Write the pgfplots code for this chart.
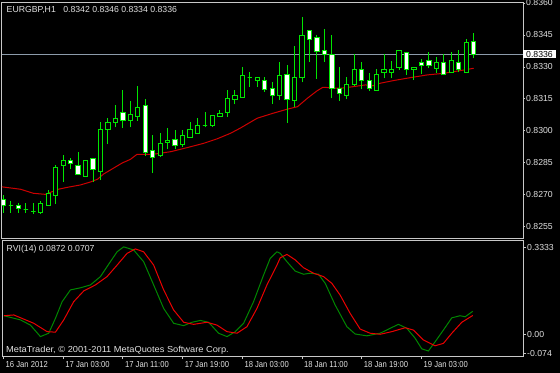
\documentclass[border=0pt]{standalone}
\usepackage{pgfplots}
\pgfplotsset{compat=1.18}
\usepackage{pgfplotstable}
\usepackage{fontspec}
\setmainfont{Liberation Sans}
\newfontfamily\narrowfont[FakeStretch=0.88]{Liberation Sans}
\newfontfamily\widefont[FakeStretch=1.065]{Liberation Sans}
\definecolor{cgreen}{RGB}{0,230,0}
\definecolor{mared}{RGB}{205,0,0}
\definecolor{rvig}{RGB}{0,135,0}
\definecolor{rvir}{RGB}{235,0,0}
\definecolor{framec}{RGB}{200,200,200}
\definecolor{hlinec}{RGB}{140,155,170}
\definecolor{txt}{RGB}{225,225,225}
\newcommand\mtfont{\fontsize{8.7bp}{10bp}\selectfont}
\newcommand\mtnarrow{\narrowfont\fontsize{8.7bp}{10bp}\selectfont}
\newcommand\mtwide{\widefont\fontsize{8.7bp}{10bp}\selectfont}

\pgfplotstableread{
i O H L C
0 0.82681 0.82700 0.82616 0.82653
1 0.82652 0.82672 0.82617 0.82652
2 0.82652 0.82664 0.82617 0.82636
3 0.82631 0.82664 0.82617 0.82631
4 0.82622 0.82661 0.82611 0.82622
5 0.82620 0.82672 0.82611 0.82661
6 0.82652 0.82723 0.82650 0.82708
7 0.82699 0.82841 0.82658 0.82830
8 0.82839 0.82888 0.82760 0.82864
9 0.82861 0.82872 0.82820 0.82849
10 0.82839 0.82903 0.82798 0.82798
11 0.82789 0.82866 0.82789 0.82861
12 0.82870 0.82870 0.82762 0.82820
13 0.82808 0.83042 0.82770 0.83008
14 0.83008 0.83060 0.82938 0.83041
15 0.83039 0.83122 0.83017 0.83058
16 0.83088 0.83192 0.83013 0.83048
17 0.83048 0.83142 0.83017 0.83078
18 0.83070 0.83212 0.83048 0.83111
19 0.83119 0.83150 0.82884 0.82900
20 0.82910 0.82981 0.82803 0.82877
21 0.82884 0.82989 0.82877 0.82942
22 0.82947 0.83013 0.82914 0.82955
23 0.82958 0.83005 0.82914 0.82930
24 0.82938 0.83005 0.82926 0.82981
25 0.82969 0.83044 0.82969 0.83005
26 0.82986 0.83061 0.82986 0.83028
27 0.83027 0.83090 0.83017 0.83027
28 0.83027 0.83072 0.83020 0.83072
29 0.83067 0.83098 0.83067 0.83080
30 0.83086 0.83192 0.83067 0.83150
31 0.83149 0.83192 0.83125 0.83167
32 0.83158 0.83301 0.83158 0.83259
33 0.83252 0.83277 0.83208 0.83252
34 0.83238 0.83250 0.83208 0.83250
35 0.83236 0.83252 0.83184 0.83195
36 0.83198 0.83228 0.83127 0.83165
37 0.83165 0.83322 0.83145 0.83258
38 0.83267 0.83309 0.83039 0.83149
39 0.83141 0.83400 0.83114 0.83252
40 0.83252 0.83533 0.83228 0.83449
41 0.83469 0.83469 0.83325 0.83430
42 0.83437 0.83450 0.83244 0.83375
43 0.83378 0.83478 0.83325 0.83360
44 0.83360 0.83450 0.83153 0.83197
45 0.83198 0.83299 0.83141 0.83177
46 0.83167 0.83252 0.83149 0.83219
47 0.83219 0.83361 0.83211 0.83289
48 0.83289 0.83322 0.83195 0.83236
49 0.83236 0.83270 0.83189 0.83197
50 0.83188 0.83289 0.83188 0.83267
51 0.83273 0.83360 0.83247 0.83289
52 0.83273 0.83330 0.83247 0.83289
53 0.83297 0.83378 0.83286 0.83378
54 0.83369 0.83369 0.83262 0.83286
55 0.83286 0.83297 0.83239 0.83297
56 0.83322 0.83337 0.83267 0.83306
57 0.83330 0.83369 0.83294 0.83306
58 0.83294 0.83345 0.83270 0.83322
59 0.83322 0.83361 0.83262 0.83267
60 0.83273 0.83369 0.83273 0.83330
61 0.83322 0.83380 0.83278 0.83289
62 0.83273 0.83430 0.83273 0.83417
63 0.83420 0.83460 0.83340 0.83360
}\candles

\pgfplotstableread{
x y
-0.4 0.82739
2.28 0.82727
4.0 0.82708
5.6 0.82703
7.36 0.82727
8.57 0.82736
10.3 0.82747
11.65 0.82761
12.6 0.82774
13.4 0.82798
14.7 0.82825
15.9 0.82850
17.0 0.82867
17.9 0.82891
20.1 0.82891
22.4 0.82903
24.6 0.82922
26.8 0.82942
28.6 0.82963
30.4 0.82989
31.7 0.83013
34.0 0.83060
36.1 0.83083
38.0 0.83102
39.4 0.83114
40.7 0.83153
42.0 0.83188
42.8 0.83205
45.1 0.83200
46.9 0.83208
48.5 0.83216
49.5 0.83212
50.5 0.83224
52.2 0.83236
54.5 0.83250
56.8 0.83263
58.9 0.83270
61.2 0.83283
63.0 0.83294
}\ma

\pgfplotstableread{
x y
0.04 0.070
2.28 0.054
3.61 0.034
4.95 -0.010
6.06 0.003
6.96 0.060
7.86 0.124
8.97 0.169
10.31 0.177
11.65 0.188
12.99 0.220
14.32 0.277
15.22 0.315
16.10 0.334
17.44 0.322
18.78 0.277
20.12 0.188
21.46 0.098
22.80 0.041
24.14 0.032
25.26 0.045
26.37 0.052
27.48 0.045
28.82 0.003
29.95 -0.010
31.06 0.009
32.17 0.041
33.51 0.124
34.85 0.226
35.74 0.290
36.64 0.315
37.08 0.309
37.98 0.277
39.09 0.241
40.20 0.229
41.10 0.233
42.21 0.229
43.11 0.194
44.44 0.111
46.01 0.028
47.12 0.000
48.69 -0.007
50.47 0.003
51.81 0.022
52.92 0.037
54.04 0.022
55.15 -0.016
56.05 -0.057
56.93 -0.065
57.83 -0.030
58.94 0.015
60.07 0.062
61.18 0.070
61.85 0.066
62.88 0.087
}\rvimain

\pgfplotstableread{
x y
0.04 0.070
1.38 0.073
2.72 0.057
4.06 0.041
5.85 0.009
6.96 0.007
8.07 0.054
9.41 0.124
10.75 0.165
12.32 0.188
13.88 0.220
15.22 0.264
16.56 0.309
17.67 0.326
18.78 0.315
20.12 0.264
21.46 0.169
22.80 0.092
24.14 0.045
25.48 0.037
27.27 0.045
28.61 0.034
29.95 0.009
31.29 0.003
32.62 0.028
33.96 0.098
35.30 0.188
36.64 0.264
37.08 0.292
37.98 0.305
39.09 0.284
40.20 0.254
41.54 0.233
42.88 0.220
44.00 0.194
45.11 0.149
46.45 0.079
47.79 0.019
49.13 0.003
50.47 -0.001
52.03 0.009
53.82 0.024
54.93 0.015
56.27 -0.023
57.83 -0.045
58.94 -0.036
60.07 0.003
61.41 0.045
62.88 0.071
}\rvisig

\begin{document}
\begin{tikzpicture}
\fill[black] (0bp,0bp) rectangle (560bp,-373bp);
\useasboundingbox (0bp,0bp) rectangle (560bp,-373bp);
\begin{axis}[
  at={(2bp,-2bp)}, anchor=north west, scale only axis,
  width=521bp, height=236bp,
  xmin=-0.2, xmax=69.61, ymin=0.824984, ymax=0.836047,
  axis line style={framec, line width=1bp},
  xtick=\empty,
  ytick={0.8255,0.8270,0.8285,0.8300,0.8315,0.8330,0.8345,0.8360},
  yticklabels={0.8255,0.8270,0.8285,0.8300,0.8315,0.8330,0.8345,0.8360},
  ytick pos=right,
  tick align=outside, major tick length=2bp,
  tick style={framec, line width=1bp},
  y tick label style={font=\mtfont, text=txt, anchor=west, inner xsep=3bp, inner ysep=1bp, xshift=-2bp},
  extra y ticks={0.8336},
  extra y tick labels={0.8336},
  extra y tick style={y tick label style={fill=white, text=black}},
  clip=true,
]
\addplot[hlinec, line width=1bp] coordinates {(-0.2,0.8336) (69.61,0.8336)};
\addplot[mared, line width=1bp] table[x=x,y=y] {\ma};
\pgfplotstablegetrowsof{\candles}
\pgfmathtruncatemacro\nrows{\pgfplotsretval-1}
\pgfplotsforeachungrouped \k in {0,...,\nrows}{%
  \pgfplotstablegetelem{\k}{O}\of\candles \let\vO=\pgfplotsretval
  \pgfplotstablegetelem{\k}{H}\of\candles \let\vH=\pgfplotsretval
  \pgfplotstablegetelem{\k}{L}\of\candles \let\vL=\pgfplotsretval
  \pgfplotstablegetelem{\k}{C}\of\candles \let\vC=\pgfplotsretval
  \pgfmathsetmacro\xa{\k-0.29}%
  \pgfmathsetmacro\xb{\k+0.29}%
  \ifdim\vC pt<\vO pt \def\bfill{white}\else\def\bfill{black}\fi
  \edef\next{%
    \noexpand\addplot[cgreen, line width=1bp] coordinates {(\k,\vL) (\k,\vH)};
    \noexpand\addplot[draw=cgreen, fill=\bfill, line width=1bp] coordinates {(\xa,\vO) (\xb,\vO) (\xb,\vC) (\xa,\vC)} -- cycle;
  }%
  \next
}
\end{axis}
\begin{axis}[
  at={(2bp,-240bp)}, anchor=north west, scale only axis,
  width=521bp, height=116bp,
  xmin=-0.2, xmax=69.61, ymin=-0.0843, ymax=0.3602,
  axis line style={framec, line width=1bp},
  xtick={0,8,16,24,32,40,48,56},
  xticklabels={16 Jan 2012,17 Jan 03:00,17 Jan 11:00,17 Jan 19:00,18 Jan 03:00,18 Jan 11:00,18 Jan 19:00,19 Jan 03:00},
  xtick pos=bottom, ytick pos=right,
  ytick={-0.074,0,0.3333}, yticklabels={-0.074,0.00,0.3333},
  tick align=outside, major tick length=3bp,
  tick style={framec, line width=1bp},
  y tick label style={font=\mtfont, text=txt, anchor=west, inner xsep=3bp, inner ysep=1bp, xshift=-2bp},
  x tick label style={font=\mtnarrow, text=txt, anchor=north west, inner xsep=1bp, inner ysep=1bp, xshift=1bp, yshift=-1.5bp},
]
\addplot[rvig, line width=1bp] table[x=x,y=y] {\rvimain};
\addplot[rvir, line width=1bp] table[x=x,y=y] {\rvisig};
\end{axis}
\node[anchor=west, text=txt, font=\mtfont, inner sep=0pt] at (6.5bp,-10bp) {EURGBP,H1\hspace{5bp} 0.8342 0.8346 0.8334 0.8336};
\node[anchor=west, text=txt, font=\mtfont, inner sep=0pt] at (6.5bp,-249.5bp) {RVI(14) 0.0872 0.0707};
\node[anchor=west, text=txt, font=\mtwide, inner sep=0pt] at (6bp,-350bp) {MetaTrader, © 2001-2011 MetaQuotes Software Corp.};
\end{tikzpicture}
\end{document}
